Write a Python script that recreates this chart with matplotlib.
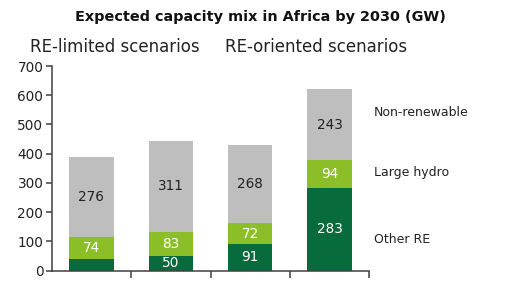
import numpy as np
import matplotlib
matplotlib.use("Agg")
import matplotlib.pyplot as plt

# values in GW, one entry per scenario bar
other_re = [40, 50, 91, 283]
large_hydro = [74, 83, 72, 94]
non_renewable = [276, 311, 268, 243]
show_other_label = [False, True, True, True]

series_names = ["Other RE", "Large hydro", "Non-renewable"]
colors = ["#076b3b", "#8bbe27", "#bdbebd"]
label_colors = ["white", "white", "#222222"]

W, H = 520, 282
fig = plt.figure(figsize=(W / 100, H / 100), dpi=100)
ax = fig.add_axes([51.7 / W, 1 - 270.7 / H, (369.3 - 51.7) / W, (270.7 - 66) / H])

x = np.arange(len(other_re))
width = 0.56
bottom = np.zeros(len(x))
for i, vals in enumerate([other_re, large_hydro, non_renewable]):
    vals = np.array(vals)
    ax.bar(x, vals, width, bottom=bottom, color=colors[i], linewidth=0)
    for j, v in enumerate(vals):
        if i == 0 and not show_other_label[j]:
            continue
        ax.text(x[j], bottom[j] + v / 2, str(v), ha="center", va="center",
                color=label_colors[i], fontsize=9.8)
    bottom = bottom + vals

ax.set_xlim(-0.5, 3.5)
ax.set_ylim(0, 700)
ax.set_yticks(range(0, 701, 100))
ax.set_xticks([0.5, 1.5, 2.5, 3.5])
ax.set_xticklabels([])
ax.spines["top"].set_visible(False)
ax.spines["right"].set_visible(False)
for s in ["left", "bottom"]:
    ax.spines[s].set_color("#404040")
    ax.spines[s].set_linewidth(1.1)
ax.tick_params(axis="y", length=4, width=1.1, color="#404040", labelsize=9.8,
               labelcolor="#222222", pad=2)
ax.tick_params(axis="x", length=5, width=1.1, color="#404040")

# series names to the right of the last bar
for name, ypix in zip(series_names, [239.3, 172.7, 112]):
    fig.text(374 / W, 1 - ypix / H, name, ha="left", va="center", fontsize=9,
             color="#222222")

fig.text(260.5 / W, 1 - 17 / H, "Expected capacity mix in Africa by 2030 (GW)",
         ha="center", va="center", fontsize=10.4, fontweight="bold", color="#111111")
fig.text(30 / W, 1 - 47 / H, "RE-limited scenarios", ha="left", va="center",
         fontsize=12, color="#222222")
fig.text(225 / W, 1 - 47 / H, "RE-oriented scenarios", ha="left", va="center",
         fontsize=12, color="#222222")

fig.savefig("out.png", dpi=100)
